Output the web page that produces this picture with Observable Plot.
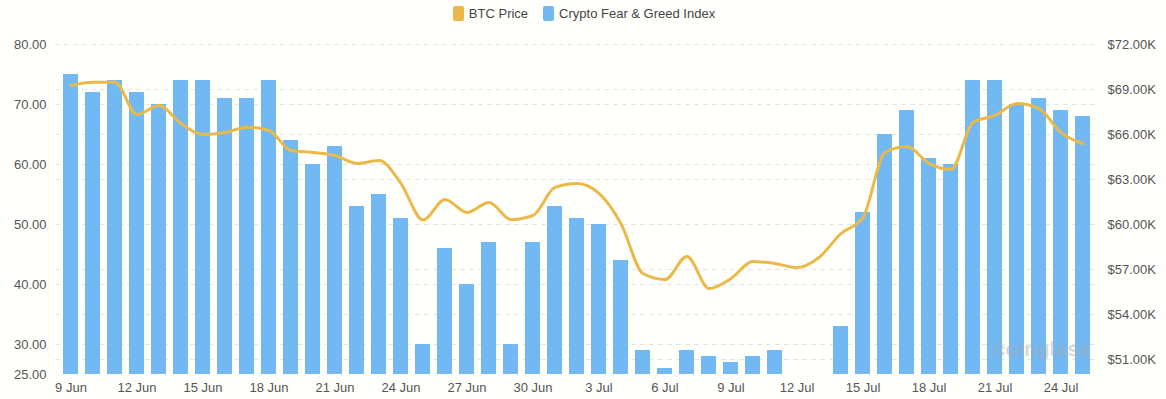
<!DOCTYPE html>
<html><head><meta charset="utf-8">
<script src="https://cdn.jsdelivr.net/npm/d3@7"></script>
<script src="https://cdn.jsdelivr.net/npm/@observablehq/plot@0.6"></script>
<style>
body{margin:0;background:#fffffc;font-family:"Liberation Sans",Arial,sans-serif;}
#legend{height:26px;display:flex;justify-content:center;align-items:center;font-size:13px;color:#444;padding-left:2px;}
.item{display:flex;align-items:center;}
.sw{width:11px;height:15px;border-radius:2px;margin-right:5px;}
#chart svg{display:block;}
</style></head><body>
<div id="legend">
  <div class="item"><span class="sw" style="background:#ebb94a"></span><span>BTC Price</span></div>
  <div class="item" style="margin-left:15px"><span class="sw" style="background:#72b8f2"></span><span>Crypto Fear &amp; Greed Index</span></div>
</div>
<div id="chart"></div>
<script>
const dates = ["9 Jun","10 Jun","11 Jun","12 Jun","13 Jun","14 Jun","15 Jun","16 Jun","17 Jun","18 Jun","19 Jun","20 Jun","21 Jun","22 Jun","23 Jun","24 Jun","25 Jun","26 Jun","27 Jun","28 Jun","29 Jun","30 Jun","1 Jul","2 Jul","3 Jul","4 Jul","5 Jul","6 Jul","7 Jul","8 Jul","9 Jul","10 Jul","11 Jul","12 Jul","13 Jul","14 Jul","15 Jul","16 Jul","17 Jul","18 Jul","19 Jul","20 Jul","21 Jul","22 Jul","23 Jul","24 Jul","25 Jul"];
const fearGreed = [75,72,74,72,70,74,74,71,71,74,64,60,63,53,55,51,30,46,40,47,30,47,53,51,50,44,29,26,29,28,27,28,29,null,null,33,52,65,69,61,60,74,74,70,71,69,68];
const btcPrice = [69270,69490,69490,67330,67930,66730,66000,66130,66490,66270,64930,64800,64600,64070,64270,62730,60300,61670,60800,61470,60330,60600,62470,62730,62070,60050,56730,56330,57870,55730,56400,57530,57400,57130,57800,59400,60470,64800,65200,64070,63670,66800,67270,68070,67730,66130,65400];
const xTicks = ["9 Jun","12 Jun","15 Jun","18 Jun","21 Jun","24 Jun","27 Jun","30 Jun","3 Jul","6 Jul","9 Jul","12 Jul","15 Jul","18 Jul","21 Jul","24 Jul"];
const leftTicks = [25,30,40,50,60,70,80];
const rightTicks = [51000,54000,57000,60000,63000,66000,69000,72000];

const leftDomain = [25, 80];
const rightDomain = [50000, 72000];
const toLeft = p => leftDomain[0] + (p - rightDomain[0]) / (rightDomain[1] - rightDomain[0]) * (leftDomain[1] - leftDomain[0]);
const fromLeft = v => rightDomain[0] + (v - leftDomain[0]) / (leftDomain[1] - leftDomain[0]) * (rightDomain[1] - rightDomain[0]);

const table = dates.map((d, i) => ({date: d, fg: fearGreed[i], btc: toLeft(btcPrice[i])}));
const gold = "#ebb94a", blue = "#72b8f2";
const gridStyle = {stroke: "#e4e4e4", strokeOpacity: 1, strokeDasharray: "5,4"};

const chart = Plot.plot({
  width: 1166, height: 373,
  marginTop: 18, marginBottom: 25, marginLeft: 55, marginRight: 68,
  style: {fontFamily: "'Liberation Sans', Arial, sans-serif", fontSize: "13px", color: "#555", background: "transparent"},
  x: {type: "band", domain: dates, paddingInner: 0.3, paddingOuter: 0.15, align: 0.5},
  y: {domain: leftDomain},
  marks: [
    Plot.gridY(leftTicks.filter(t => t > 25), gridStyle),
    Plot.gridY(rightTicks.map(toLeft), gridStyle),
    Plot.barY(table.filter(d => d.fg != null), {x: "date", y1: 25, y2: "fg", fill: blue}),
    Plot.lineY(table, {x: "date", y: "btc", stroke: gold, strokeWidth: 3, curve: "monotone-x"}),
    Plot.axisY(leftTicks, {anchor: "left", tickSize: 0, tickPadding: 9, tickFormat: d => d.toFixed(2), label: null}),
    Plot.axisY(rightTicks.map(toLeft), {anchor: "right", tickSize: 0, tickPadding: 9, tickFormat: v => "$" + (Math.round(fromLeft(v)) / 1000).toFixed(2) + "K", label: null}),
    Plot.axisX(xTicks, {tickSize: 0, tickPadding: 8, label: null}),
    Plot.text(["coinglass"], {frameAnchor: "bottom-right", dx: -8, dy: -19, fill: "#aaa", fillOpacity: 0.45, fontSize: 21, fontWeight: "bold"})
  ]
});
document.getElementById("chart").appendChild(chart);
</script>
</body></html>
